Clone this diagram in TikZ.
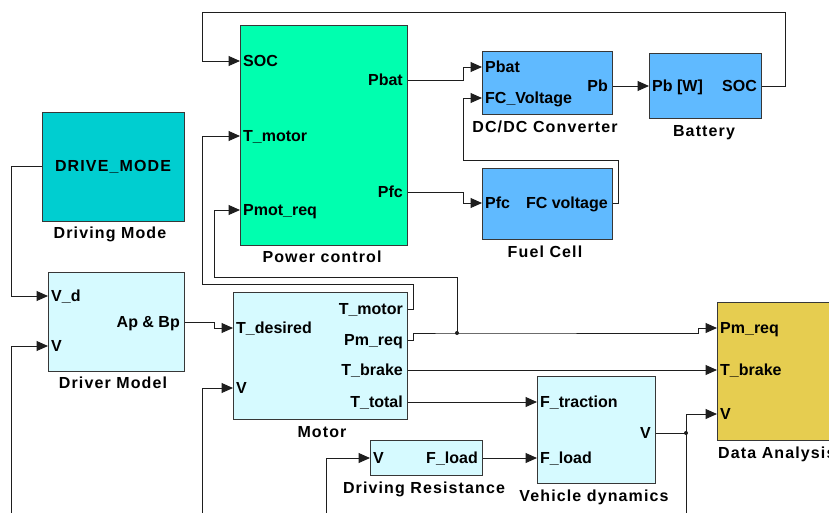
\documentclass[tikz,border=0pt]{standalone}
\usepackage{fontspec}
\setmainfont{Liberation Sans}
\newfontfamily\lblfont{Liberation Sans}[LetterSpace=7]
\usetikzlibrary{arrows.meta}
\definecolor{pcgreen}{RGB}{0,255,175}
\definecolor{dmteal}{RGB}{0,206,208}
\definecolor{blkblue}{RGB}{96,186,255}
\definecolor{lcyan}{RGB}{214,250,255}
\definecolor{gold}{RGB}{230,205,80}
\definecolor{edge}{RGB}{55,55,55}
\definecolor{wire}{RGB}{30,30,30}
\begin{document}
\begin{tikzpicture}[x=1pt,y=-1pt,
  blk/.style={draw=edge, line width=1.3pt, inner sep=0pt, anchor=north west},
  pin/.style={font=\fontsize{16}{18}\selectfont\bfseries, inner sep=0pt, text height=11.5pt, text depth=0pt, anchor=west},
  pout/.style={pin, anchor=east},
  ttl/.style={font=\lblfont\fontsize{16}{18}\selectfont\bfseries, inner sep=0pt, text height=11.5pt, text depth=0pt},
  conn/.style={draw=wire, line width=1pt},
  arr/.style={conn, -{Triangle[length=11.5pt,width=10pt]}},
  jdot/.style={circle, fill=wire, inner sep=0pt, minimum size=4pt}
]
\clip (0,0) rectangle (829,512);
\fill[white] (0,0) rectangle (829,512);

% blocks
\node[blk, fill=dmteal, minimum width=142pt, minimum height=109pt] (dm) at (42,112) {};
\node[blk, fill=pcgreen, minimum width=167pt, minimum height=220pt] (pc) at (240,25) {};
\node[blk, fill=blkblue, minimum width=130pt, minimum height=63pt] (dc) at (482,51) {};
\node[blk, fill=blkblue, minimum width=112pt, minimum height=65pt] (bat) at (649,53) {};
\node[blk, fill=blkblue, minimum width=130pt, minimum height=71pt] (fc) at (482,168) {};
\node[blk, fill=lcyan, minimum width=136pt, minimum height=99pt] (drv) at (48,272) {};
\node[blk, fill=lcyan, minimum width=174pt, minimum height=127pt] (mot) at (233,292) {};
\node[blk, fill=gold, minimum width=140pt, minimum height=138pt] (da) at (717,302) {};
\node[blk, fill=lcyan, minimum width=112pt, minimum height=35pt] (dr) at (370,440) {};
\node[blk, fill=lcyan, minimum width=118pt, minimum height=107pt] (vd) at (537,376) {};

% block titles
\node[ttl] (dmtxt) at (113,166) {DRIVE\_MODE};
\node[ttl] (tdm) at (110,233) {Driving Mode};
\node[ttl] (tpc) at (322,257) {Power control};
\node[ttl] (tdc) at (545,127) {DC/DC Converter};
\node[ttl] (tbat) at (704,131) {Battery};
\node[ttl] (tfc) at (545,252) {Fuel Cell};
\node[ttl] (tdrv) at (113,383) {Driver Model};
\node[ttl] (tmot) at (322,432) {Motor};
\node[ttl, anchor=west] (tda) at (718,453) {Data Analysis};
\node[ttl] (tdr) at (424,488) {Driving Resistance};
\node[ttl] (tvd) at (594,496) {Vehicle dynamics};

% ports: power control
\node[pin] (pc-soc) at (243,61) {SOC};
\node[pin] (pc-tm) at (243,136) {T\_motor};
\node[pin] (pc-pmr) at (243,210) {Pmot\_req};
\node[pout] (pc-pbat) at (403,80) {Pbat};
\node[pout] (pc-pfc) at (403,192) {Pfc};
% dc/dc
\node[pin] (dc-pbat) at (485,67) {Pbat};
\node[pin] (dc-fcv) at (485,98) {FC\_Voltage};
\node[pout] (dc-pb) at (608,86) {Pb};
% battery
\node[pin] (bat-pb) at (652,86) {Pb [W]};
\node[pout] (bat-soc) at (757,86) {SOC};
% fuel cell
\node[pin] (fc-pfc) at (485,203) {Pfc};
\node[pout] (fc-fcv) at (608,203) {FC voltage};
% driver model
\node[pin] (drv-vd) at (51,296) {V\_d};
\node[pin] (drv-v) at (51,346) {V};
\node[pout] (drv-ap) at (180,322) {Ap \& Bp};
% motor
\node[pin] (mot-td) at (236,328) {T\_desired};
\node[pin] (mot-v) at (236,388) {V};
\node[pout] (mot-tm) at (403,309) {T\_motor};
\node[pout] (mot-pm) at (403,340) {Pm\_req};
\node[pout] (mot-tb) at (403,370) {T\_brake};
\node[pout] (mot-tt) at (403,402) {T\_total};
% data analysis
\node[pin] (da-pm) at (720,328) {Pm\_req};
\node[pin] (da-tb) at (720,370) {T\_brake};
\node[pin] (da-v) at (720,414) {V};
% driving resistance
\node[pin] (dr-v) at (373,458) {V};
\node[pout] (dr-fl) at (478,458) {F\_load};
% vehicle dynamics
\node[pin] (vd-ft) at (540,402) {F\_traction};
\node[pin] (vd-fl) at (540,458) {F\_load};
\node[pout] (vd-v) at (651,433) {V};

% free ends and junctions
\coordinate (bot1) at (11,520);
\coordinate (bot2) at (202,520);
\coordinate (bot3) at (326,520);
\coordinate (bot4) at (686,520);
\coordinate (j1) at (457,333);
\coordinate (j2) at (686,433);

% connectors
\draw[arr] (bat.east |- bat-soc) -- (785,86) -- (785,12) -- (202,12) -- (202,61) -- (pc.west |- pc-soc);
\draw[arr] (pc.east |- pc-pbat) -- (463,80) -- (463,67) -- (dc.west |- dc-pbat);
\draw[arr] (pc.east |- pc-pfc) -- (463,192) -- (463,203) -- (fc.west |- fc-pfc);
\draw[arr] (fc.east |- fc-fcv) -- (618,203) -- (618,160) -- (463,160) -- (463,98) -- (dc.west |- dc-fcv);
\draw[arr] (dc.east |- dc-pb) -- (bat.west |- bat-pb);
\draw[arr] (dm.west |- dmtxt) -- (11,166) -- (11,296) -- (drv.west |- drv-vd);
\draw[arr] (bot1) -- (11,346) -- (drv.west |- drv-v);
\draw[arr] (drv.east |- drv-ap) -- (214,322) -- (214,328) -- (mot.west |- mot-td);
\draw[arr] (bot2) -- (202,388) -- (mot.west |- mot-v);
\draw[arr] (mot.east |- mot-tm) -- (413,309) -- (413,284) -- (202,284) -- (202,136) -- (pc.west |- pc-tm);
\draw[arr] (mot.east |- mot-pm) -- (413,340) -- (413,333) -- (j1) -- (698,333) -- (698,328) -- (da.west |- da-pm);
\draw[arr] (j1) -- (457,277) -- (214,277) -- (214,210) -- (pc.west |- pc-pmr);
\draw[arr] (mot.east |- da-tb) -- (da.west |- da-tb);
\draw[arr] (mot.east |- mot-tt) -- (vd.west |- vd-ft);
\draw[arr] (dr.east |- dr-fl) -- (vd.west |- vd-fl);
\draw[arr] (bot3) -- (326,458) -- (dr.west |- dr-v);
\draw[arr] (vd.east |- vd-v) -- (j2) -- (686,414) -- (da.west |- da-v);
\draw[conn] (j2) -- (bot4);
\node[jdot] at (j1) {};
\node[jdot] at (j2) {};
\end{tikzpicture}
\end{document}
